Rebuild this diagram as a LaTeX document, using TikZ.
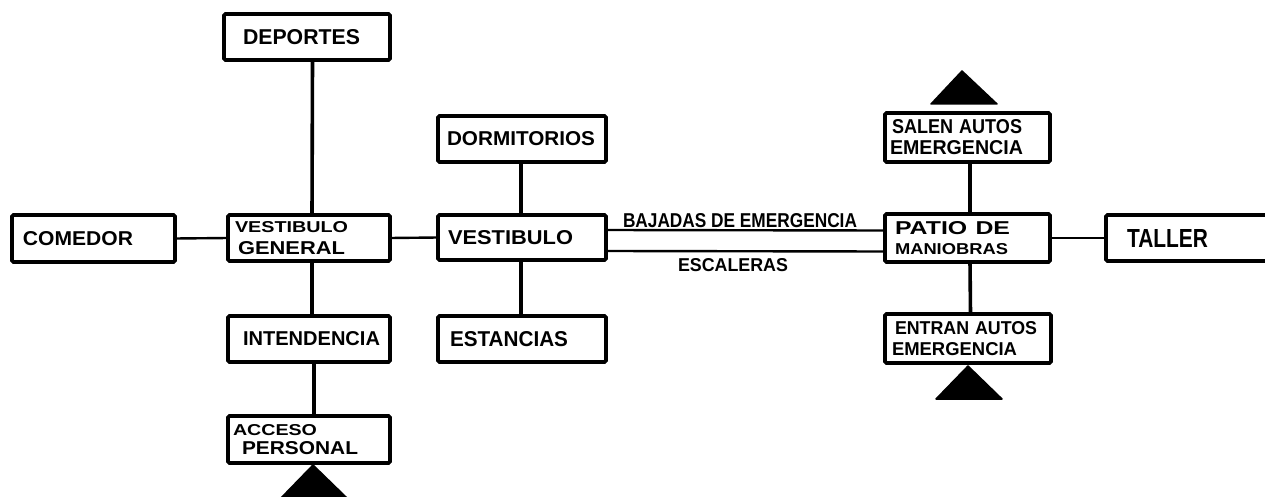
\documentclass[tikz,border=0pt]{standalone}
\usepackage{fontspec}
\usepackage{graphicx}
\setmainfont{Liberation Sans}
\tikzset{
  boxnode/.style={draw=black,line width=3.8pt,rounded corners=1.5pt,inner sep=0pt,outer sep=0pt,align=left,font=\fontsize{10}{1}\selectfont},
  conn/.style={draw=black,line width=3.6pt},
  thinconn/.style={draw=black,line width=2.4pt},
  mark tri/.style={fill=black,draw=black,line width=1.5pt,line join=round},
  textlabel/.style={inner sep=0pt,outer sep=0pt}
}
\newcommand{\lab}[3]{\resizebox{#1pt}{#2pt}{\textbf{#3}}}
% name, x1,y1,x2,y2 (centre-line of the frame), text inset, content
\newcommand{\bx}[7]{%
  \pgfmathsetmacro{\cxx}{(#2+#4)/2}\pgfmathsetmacro{\cyy}{(#3+#5)/2}%
  \pgfmathsetmacro{\www}{#4-#2}\pgfmathsetmacro{\hhh}{#5-#3}%
  \node[boxnode,text width=\www pt,minimum height=\hhh pt] (#1) at (\cxx,\cyy) {\hspace*{#6pt}#7};}
\begin{document}
\begin{tikzpicture}[x=1pt,y=-1pt]
\useasboundingbox (0,0) rectangle (1265,497);
\clip (0,0) rectangle (1265,497);
\bx{dep}{224}{14}{390}{60}{19}{\lab{117}{15}{DEPORTES}}
\bx{com}{12}{215}{175}{262}{11}{\lab{110}{14}{COMEDOR}}
\bx{vg}{228}{215}{390}{261}{7}{\lab{113}{11}{VESTIBULO}\\[8pt]\hspace*{10pt}\lab{107}{13}{GENERAL}}
\bx{int}{228}{316}{390}{362}{15}{\lab{137}{14}{INTENDENCIA}}
\bx{acc}{228}{416}{390}{463}{5}{\lab{84}{11}{ACCESO}\\[5pt]\hspace*{14pt}\lab{116}{13}{PERSONAL}}
\bx{dor}{438}{116}{606}{162}{9}{\lab{148}{14}{DORMITORIOS}}
\bx{ves}{438}{215}{606}{260}{10}{\lab{125}{14}{VESTIBULO}}
\bx{est}{438}{316}{606}{362}{12}{\lab{118}{15}{ESTANCIAS}}
\bx{sal}{885}{113}{1050}{162}{7}{\lab{130}{14}{SALEN AUTOS}\\[6pt]\hspace*{5pt}\lab{133}{14}{EMERGENCIA}}
\bx{pat}{885}{214}{1050}{262}{10}{\lab{115}{13}{PATIO DE}\\[8pt]\hspace*{10pt}\lab{113}{11}{MANIOBRAS}}
\bx{ent}{885}{314}{1051}{363}{10}{\lab{142}{13}{ENTRAN AUTOS}\\[7pt]\hspace*{7pt}\lab{125}{13}{EMERGENCIA}}
\bx{tal}{1106}{215}{1290}{261}{21}{\lab{81}{18}{TALLER}}
\draw[conn] ([xshift=5.5pt]dep.south) -- ([xshift=3pt]vg.north);
\draw[conn] ([xshift=3pt]vg.south) -- ([xshift=3pt]int.north);
\draw[conn] ([xshift=5pt]int.south) -- ([xshift=5pt]acc.north);
\draw[conn] ([xshift=-1pt]dor.south) -- ([xshift=-1pt]ves.north);
\draw[conn] ([xshift=-1pt]ves.south) -- ([xshift=-1pt]est.north);
\draw[conn] ([xshift=2.5pt]sal.south) -- ([xshift=2.5pt]pat.north);
\draw[conn] ([xshift=2.5pt]pat.south) -- ([xshift=2.5pt]ent.north);
\draw[thinconn] (com.east) -- (vg.west);
\draw[thinconn] (vg.east) -- (ves.west);
\draw[thinconn] (pat.east) -- (tal.west);
\draw[thinconn] ([yshift=7.5pt]ves.east) -- ([yshift=7.5pt]pat.west);
\draw[thinconn] ([yshift=-13.5pt]ves.east) -- ([yshift=-13.5pt]pat.west);
\node[textlabel] (baj) at (740,220.5) {\lab{234}{14}{BAJADAS DE EMERGENCIA}};
\node[textlabel] (esc) at (733,265) {\lab{110}{13}{ESCALERAS}};
\fill[mark tri] (313,465) -- (280,499) -- (348,499) -- cycle;
\fill[mark tri] (962,71) -- (931,104) -- (997,104) -- cycle;
\fill[mark tri] (968,366) -- (936,399) -- (1002,399) -- cycle;
\end{tikzpicture}
\end{document}
